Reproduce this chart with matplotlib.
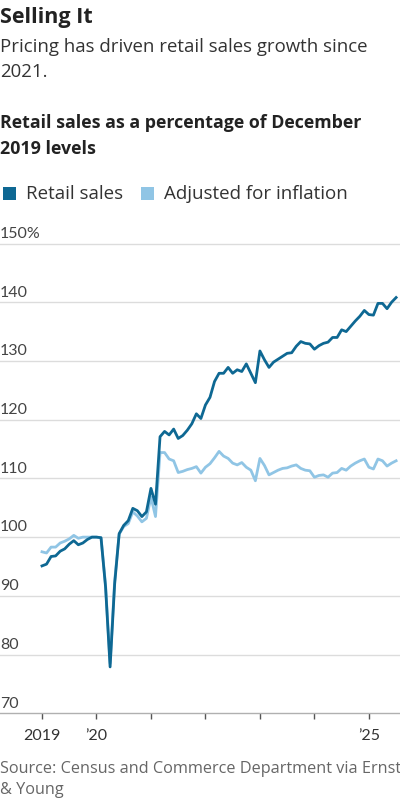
import matplotlib
matplotlib.use("Agg")
import matplotlib.pyplot as plt
import matplotlib.patches as mpatches
import matplotlib.transforms as mtransforms

# ---- data: monthly, Jan 2019 .. Jul 2025 (percent of Dec 2019 level) ----
retail_sales = [
    95.1, 95.4, 96.7, 96.8, 97.6, 98.0, 98.8, 99.4, 98.7, 99.0, 99.6, 100.0,   # 2019
    100.0, 99.9, 91.5, 77.9, 92.0, 100.6, 102.0, 102.8, 104.9, 104.5, 103.5, 104.3,  # 2020
    108.3, 105.6, 117.1, 118.0, 117.4, 118.4, 116.8, 117.3, 118.2, 119.3, 121.0, 120.2,  # 2021
    122.5, 123.8, 126.5, 127.9, 127.9, 128.9, 127.9, 128.5, 128.2, 129.5, 127.9, 126.3,  # 2022
    131.7, 130.2, 128.9, 129.8, 130.3, 130.8, 131.3, 131.4, 132.5, 133.3, 133.0, 132.9,  # 2023
    132.0, 132.6, 133.0, 133.2, 134.0, 134.0, 135.3, 135.0, 135.9, 136.8, 137.6, 138.6,  # 2024
    137.9, 137.8, 139.8, 139.8, 138.9, 140.0, 140.8,                                     # 2025
]
adjusted_for_inflation = [
    97.5, 97.3, 98.3, 98.3, 99.0, 99.3, 99.7, 100.3, 99.8, 100.0, 100.0, 100.0,
    100.0, 99.9, 91.8, 78.5, 92.5, 100.5, 101.8, 102.3, 104.3, 103.6, 102.6, 103.2,
    106.8, 103.5, 114.4, 114.4, 113.3, 113.0, 111.0, 111.2, 111.5, 111.7, 112.0, 110.9,
    111.9, 112.5, 113.5, 114.6, 113.8, 113.4, 112.6, 112.3, 112.7, 111.9, 111.4, 109.6,
    113.4, 112.2, 110.6, 111.0, 111.4, 111.7, 111.8, 112.1, 112.3, 111.7, 111.4, 111.3,
    110.2, 110.5, 110.6, 110.2, 110.9, 111.0, 111.7, 111.4, 112.1, 112.6, 113.0, 113.3,
    111.9, 111.6, 113.3, 113.0, 112.1, 112.6, 113.0,
]
months = list(range(len(retail_sales)))
year_ticks = [0, 12, 24, 36, 48, 60, 72]
year_labels = ["2019", "\u201920", "", "", "", "", "\u201925"]
y_ticks = [70, 80, 90, 100, 110, 120, 130, 140, 150]
y_labels = ["70", "80", "90", "100", "110", "120", "130", "140", "150%"]

DARK = "#0e6893"
LIGHT = "#90c5e5"
FONT = "Open Sans"
TFONT = "Lato"

W, H = 400, 800
fig = plt.figure(figsize=(4, 8), dpi=100)
fig.patch.set_facecolor("white")

def fy(px):
    return 1 - px / H

# ---- axes geometry (pixels) ----
px_per_month = 4.54
x0 = 42.0
ymin, ymax = 70, 151
y70, y150 = 713.3, 243.5
ppu = (y70 - y150) / 80.0
top_px = y70 - (ymax - ymin) * ppu
ax = fig.add_axes([0, fy(y70), 1, (y70 - top_px) / H])
ax.set_xlim(-x0 / px_per_month, (W - x0) / px_per_month)
ax.set_ylim(ymin, ymax)
ax.set_facecolor("none")

for s in ["top", "right", "left"]:
    ax.spines[s].set_visible(False)
ax.spines["bottom"].set_color("#b0b0b0")
ax.spines["bottom"].set_linewidth(1.0)

for v in y_ticks[1:]:
    ax.axhline(v, color="#dcdcdc", lw=1.0, zorder=1)

trans = mtransforms.blended_transform_factory(ax.transAxes, ax.transData)
for v, lab in zip(y_ticks, y_labels):
    ax.text(0.0, v + 0.45, lab, transform=trans, ha="left", va="bottom",
            fontsize=11.5, color="#444444", family=TFONT)

ax.set_yticks([])
ax.set_xticks(year_ticks)
ax.set_xticklabels(year_labels)
ax.tick_params(axis="x", length=4, width=1, color="#555555", pad=7,
               labelsize=11.5, labelcolor="#333333")
for t in ax.get_xticklabels():
    t.set_family(TFONT)

ax.plot(months, adjusted_for_inflation, color=LIGHT, lw=2.0, zorder=3,
        solid_joinstyle="round")
ax.plot(months, retail_sales, color=DARK, lw=2.0, zorder=4,
        solid_joinstyle="round")

# ---- titles ----
fig.text(0.0, fy(22.5), "Selling It", fontsize=15.5, fontweight="bold",
         color="#222222", family=FONT, va="baseline", ha="left")
fig.text(0.0, fy(52), "Pricing has driven retail sales growth since",
         fontsize=13.4, color="#333333", family=FONT, va="baseline", ha="left")
fig.text(0.0, fy(77), "2021.", fontsize=13.4, color="#333333", family=FONT,
         va="baseline", ha="left")
fig.text(0.0, fy(128), "Retail sales as a percentage of December",
         fontsize=12.8, fontweight="bold", color="#222222", family=FONT,
         va="baseline", ha="left")
fig.text(0.0, fy(154), "2019 levels", fontsize=12.8, fontweight="bold",
         color="#222222", family=FONT, va="baseline", ha="left")

# ---- legend ----
for (xs, col, lab, xt) in [(3, DARK, "Retail sales", 26),
                           (141, LIGHT, "Adjusted for inflation", 164)]:
    fig.patches.append(mpatches.Rectangle((xs / W, fy(200)), 13 / W, 13 / H,
                                          transform=fig.transFigure,
                                          facecolor=col, edgecolor="none"))
    fig.text(xt / W, fy(199), lab, fontsize=13.5, color="#333333", family=FONT,
             va="baseline", ha="left")

# ---- source ----
fig.text(0.0, fy(773), "Source: Census and Commerce Department via Ernst",
         fontsize=11.7, color="#666666", family=FONT, va="baseline", ha="left")
fig.text(0.0, fy(794), "& Young", fontsize=11.7, color="#666666", family=FONT,
         va="baseline", ha="left")

fig.savefig("out.png", dpi=100, facecolor="white")
